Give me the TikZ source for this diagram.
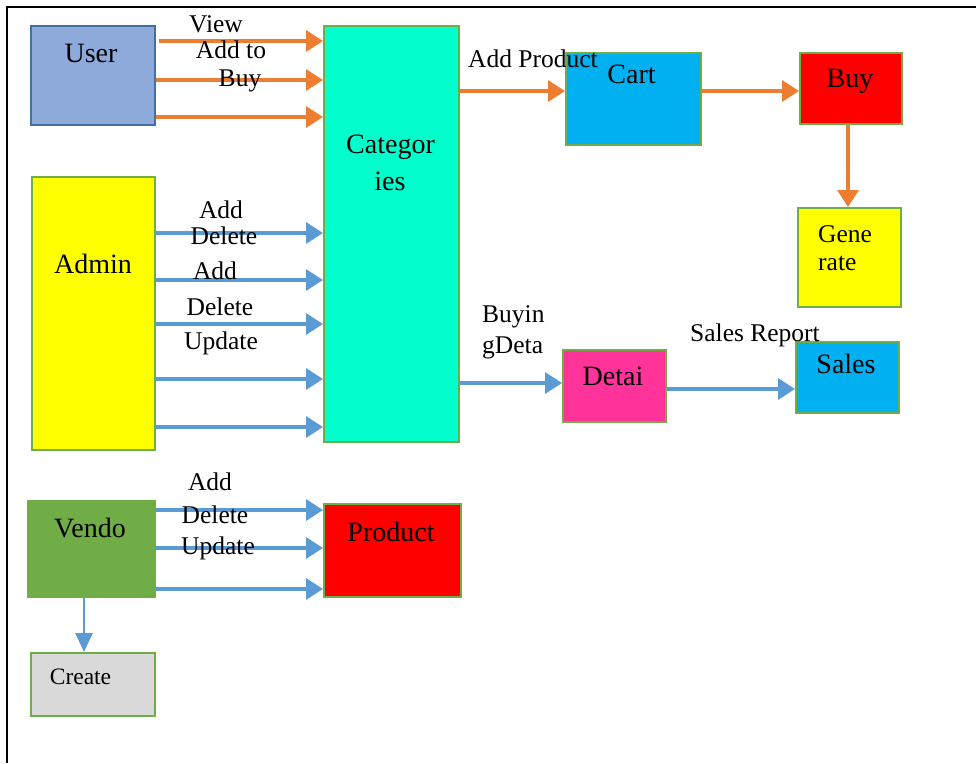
\documentclass[tikz,border=0pt]{standalone}
\usepackage{fontspec}
\setmainfont{Liberation Serif}
\usetikzlibrary{arrows.meta}
\definecolor{orangeA}{HTML}{ED7D31}
\definecolor{blueA}{HTML}{5B9BD5}
\definecolor{greenB}{HTML}{70AD47}
\definecolor{userfill}{HTML}{8EAADB}
\definecolor{userdraw}{HTML}{41719C}
\definecolor{catfill}{HTML}{00FFCC}
\definecolor{cyanA}{HTML}{00B0F0}
\definecolor{pinkA}{HTML}{FF3399}
\definecolor{greyA}{HTML}{D9D9D9}
\definecolor{yellowA}{HTML}{FFFF00}
\definecolor{redA}{HTML}{FF0000}
\begin{document}
\begin{tikzpicture}[x=1pt,y=-1pt,
  box/.style={draw=greenB, line width=2pt, inner sep=0pt, anchor=north west},
  btxt/.style={font=\fontsize{28}{30}\selectfont, inner sep=0pt},
  ltxt/.style={font=\fontsize{25.5}{28}\selectfont, inner sep=0pt},
  oarr/.style={draw=orangeA, line width=3.4pt, -{Triangle[length=17pt,width=21pt]}},
  barr/.style={draw=blueA, line width=3.4pt, -{Triangle[length=17pt,width=21pt]}},
  barrthin/.style={draw=blueA, line width=2.6pt, -{Triangle[length=19pt,width=17pt]}}]
\useasboundingbox (0,0) rectangle (976,763);
\fill[white] (0,0) rectangle (976,763);
% frame
\draw[line width=2.5pt, black] (7,763) -- (7,7) -- (976,7);

% boxes
\node[box, draw=userdraw, fill=userfill, minimum width=124pt, minimum height=99pt] (user) at (30,25) {};
\node[box, fill=catfill, minimum width=135pt, minimum height=416pt] (cat) at (323,25) {};
\node[box, fill=cyanA, minimum width=135pt, minimum height=92pt] (cart) at (565,52) {};
\node[box, fill=redA, minimum width=102pt, minimum height=71pt] (buy) at (799,52) {};
\node[box, fill=yellowA, minimum width=103pt, minimum height=99pt] (gen) at (797,207) {};
\node[box, fill=pinkA, minimum width=103pt, minimum height=72pt] (det) at (562,349) {};
\node[box, fill=cyanA, minimum width=103pt, minimum height=71pt] (sales) at (795,341) {};
\node[box, fill=yellowA, minimum width=123pt, minimum height=273pt] (admin) at (31,176) {};
\node[box, fill=greenB, minimum width=127pt, minimum height=96pt] (vendo) at (27,500) {};
\node[box, fill=redA, minimum width=137pt, minimum height=93pt] (prod) at (323,503) {};
\node[box, fill=greyA, minimum width=124pt, minimum height=63pt] (create) at (30,652) {};

% orange arrows
\draw[oarr] ([xshift=3pt]user.east |- 0,41) -- (cat.west |- 0,41);
\draw[oarr] (user.east |- 0,80) -- (cat.west |- 0,80);
\draw[oarr] (user.east |- 0,117) -- (cat.west |- 0,117);
\draw[oarr] (cat.east |- 0,91) -- (cart.west |- 0,91);
\draw[oarr] (cart.east |- 0,91) -- (buy.west |- 0,91);
\draw[oarr] (buy.south -| 848,0) -- (gen.north -| 848,0);

% blue arrows
\draw[barr] (admin.east |- 0,233) -- (cat.west |- 0,233);
\draw[barr] (admin.east |- 0,280) -- (cat.west |- 0,280);
\draw[barr] (admin.east |- 0,324) -- (cat.west |- 0,324);
\draw[barr] (admin.east |- 0,379) -- (cat.west |- 0,379);
\draw[barr] (admin.east |- 0,427) -- (cat.west |- 0,427);
\draw[barr] (cat.east |- 0,383) -- (det.west |- 0,383);
\draw[barr] (det.east |- 0,389) -- (sales.west |- 0,389);
\draw[barr] (vendo.east |- 0,510) -- (prod.west |- 0,510);
\draw[barr] (vendo.east |- 0,548) -- (prod.west |- 0,548);
\draw[barr] (vendo.east |- 0,589) -- (prod.west |- 0,589);
\draw[barrthin] (vendo.south -| 84,0) -- (create.north -| 84,0);

% box texts
\node[btxt] (tuser) at (91,53) {User};
\node[btxt] (tcat1) at (390.5,147) {Categor};
\node[btxt] (tcat2) at (390,181) {ies};
\node[btxt] (tcart) at (631.5,74) {Cart};
\node[btxt] (tbuy) at (850,81) {Buy};
\node[ltxt, anchor=west] (tgen1) at (818,234) {Gene};
\node[ltxt, anchor=west] (tgen2) at (818,263) {rate};
\node[btxt] (tdet) at (613,376) {Detai};
\node[btxt] (tsales) at (846,364) {Sales};
\node[btxt] (tadmin) at (93,264) {Admin};
\node[btxt] (tvendo) at (90,528) {Vendo};
\node[btxt] (tprod) at (391,532) {Product};
\node[font=\fontsize{23.5}{26}\selectfont, inner sep=0pt] (tcreate) at (80.5,677) {Create};

% arrow labels
\node[ltxt] (lview) at (216,24) {View};
\node[ltxt] (laddto) at (231,50) {Add to};
\node[ltxt] (lbuy) at (240,81) {Buy};
\node[ltxt] (la1) at (221,210) {Add};
\node[ltxt] (ld1) at (224,236) {Delete};
\node[ltxt] (la2) at (215,271) {Add};
\node[ltxt] (ld2) at (220,307) {Delete};
\node[ltxt] (lu1) at (221,343) {Update};
\node[ltxt] (la3) at (210,482) {Add};
\node[ltxt] (ld3) at (215,515) {Delete};
\node[ltxt] (lu2) at (218,548) {Update};
\node[ltxt] (laddp) at (533,59) {Add Product};
\node[ltxt, anchor=west] (lbuyin) at (482,317) {Buyin};
\node[ltxt, anchor=west] (lgdeta) at (482,348) {gDeta};
\node[ltxt] (lsr) at (755,335) {Sales Report};
\end{tikzpicture}
\end{document}
